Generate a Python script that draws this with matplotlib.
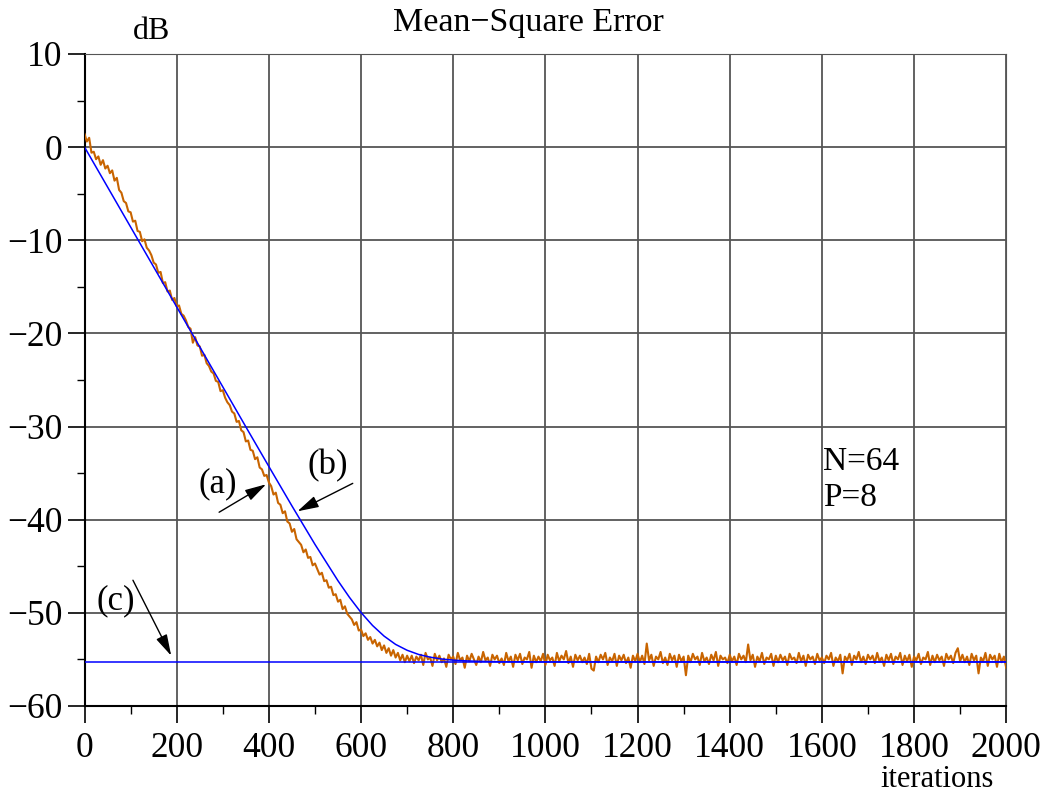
import matplotlib
matplotlib.use('Agg')
import matplotlib.pyplot as plt
import numpy as np
from matplotlib.ticker import MultipleLocator

plt.rcParams['font.family'] = ['Liberation Serif', 'DejaVu Serif']

# curva teórica (b)
iter_teo = [0, 50, 100, 150, 200, 250, 300, 350, 400, 450, 500, 550, 575, 600,
            625, 650, 675, 700, 725, 750, 775, 800, 825, 850, 900, 1000, 2000]
mse_teo = [0.0, -4.29, -8.58, -12.87, -17.16, -21.45, -25.74, -30.03, -34.29,
           -38.52, -42.65, -46.56, -48.35, -49.97, -51.36, -52.50, -53.39,
           -54.02, -54.47, -54.76, -54.96, -55.08, -55.15, -55.20, -55.25,
           -55.27, -55.27]

# nivel mínimo (c)
mse_min = -55.27

# curva simulada (a), un valor cada 5 iteraciones
paso = 5
mse_sim = [
    1.4, 0.6, 1.0, -0.6, -0.5, -1.3, -1.0, -1.9, -1.4, -2.3, -2.0, -2.8, -2.5,
    -3.6, -3.3, -4.6, -4.9, -5.8, -6.0, -6.9, -7.0, -8.0, -7.9, -9.0, -9.1,
    -10.1, -9.9, -10.8, -11.1, -11.6, -12.4, -12.6, -13.5, -13.4, -14.6, -14.5,
    -15.5, -15.4, -16.4, -16.2, -17.1,
    -17.0, -17.9, -18.1, -18.6, -19.3, -19.5, -21.0, -20.4, -21.3, -21.4,
    -22.4, -22.3, -23.2, -23.5, -24.1, -24.3, -25.1, -25.2, -26.2, -26.1,
    -26.9, -27.4, -27.7, -28.4, -28.6, -29.5, -29.4, -30.4, -30.6, -31.6,
    -31.5, -32.5, -32.6, -33.5, -33.3, -34.4, -34.6, -35.3, -35.2, -36.0,
    -36.4, -37.3, -37.1, -38.2, -38.4, -39.3, -39.1, -40.2, -40.4, -41.3,
    -41.0, -42.1, -42.4, -42.7, -43.5, -43.2, -44.1, -44.0, -44.9, -44.7,
    -45.3, -45.9, -45.7, -46.6, -46.5, -47.3, -47.2, -48.1, -48.0, -48.8,
    -48.6, -49.6, -49.3, -50.1, -50.4, -50.7, -51.3, -51.0, -51.9, -51.8,
    -52.5, -52.2, -52.9, -52.6, -53.3, -52.9, -53.6, -53.2, -54.0, -53.5,
    -54.3, -53.8, -54.6, -54.0, -54.8, -54.3, -55.1, -54.5, -55.3, -54.6,
    -55.2, -54.6, -55.4, -54.7, -55.1, -54.5, -55.6, -54.3, -55.0, -54.8,
    -55.7, -54.4, -55.1, -54.6, -55.3, -54.9, -55.8, -54.5, -55.0, -54.7,
    -55.5, -54.3, -55.1, -54.8, -55.9, -54.6, -55.2, -54.4, -55.0, -55.6,
    -54.7, -55.3, -54.2, -55.1, -54.8, -55.7, -54.5, -55.0, -54.6, -55.4,
    -54.9, -55.6, -54.3, -55.2, -54.7, -55.8, -54.5, -55.1, -54.4, -55.5,
    -54.8, -55.0, -54.2, -55.9, -54.6, -55.3, -54.7, -55.2, -54.4, -55.6,
    -54.5, -55.1, -54.8, -55.7, -54.3, -55.2, -54.6, -55.0, -54.1, -55.4,
    -54.7, -55.8, -54.5, -55.1, -54.6, -55.3, -54.8, -55.5, -54.4, -56.0,
    -56.2, -54.7, -55.3, -54.5, -55.0, -54.3, -55.6, -54.8, -55.2, -54.4,
    -55.7, -54.6, -55.1, -54.5, -55.4, -54.8, -55.9, -54.6, -55.2, -54.4,
    -55.3, -54.6, -55.5, -53.3, -55.1, -54.5, -55.7, -54.7, -55.0, -54.2,
    -55.4, -54.8, -55.6, -54.4, -55.1, -54.6, -55.8, -54.5, -55.2, -54.7,
    -56.7, -54.6, -55.3, -54.4, -55.0, -54.7, -55.6, -54.3, -55.2, -54.8,
    -55.5, -54.5, -55.1, -54.2, -55.7, -54.6, -55.0, -54.8, -55.4, -54.5,
    -55.2, -54.7, -55.6, -54.4, -55.0, -54.6, -55.3, -53.4, -55.1, -54.5,
    -55.8, -54.7, -55.2, -54.3, -55.5, -54.8, -55.0, -54.4, -55.7, -54.6,
    -55.3, -54.5, -55.1, -54.7, -55.6, -54.4, -55.0, -54.8, -55.4, -54.3,
    -55.2, -54.6, -55.7, -54.5, -55.0, -54.7, -55.5, -54.4, -55.1, -54.8,
    -55.4, -54.6, -55.0, -54.3, -55.7, -54.8, -55.2, -54.5, -56.5, -54.7,
    -55.1, -54.4, -55.6, -54.6, -55.0, -54.2, -55.3, -54.7, -55.5, -54.5,
    -55.0, -54.6, -55.4, -54.3, -55.2, -54.8, -55.7, -54.5, -55.1, -54.4,
    -55.5, -54.7, -55.0, -54.3, -55.6, -54.6, -55.2, -54.5, -55.8, -54.7,
    -55.1, -54.4, -55.5, -54.8, -55.0, -54.2, -55.6, -54.6, -55.3, -54.5,
    -55.1, -54.7, -55.7, -54.4, -55.0, -54.6, -55.4, -54.3, -53.8, -55.2,
    -54.5, -55.3, -54.7, -55.6, -54.4, -55.1, -54.6, -56.5, -54.8, -55.2,
    -54.3, -55.7, -54.5, -55.0, -54.6, -55.8, -54.4, -55.3, -54.7, -55.9,
]
iter_sim = np.arange(len(mse_sim)) * paso

fig = plt.figure(figsize=(10.4, 7.96), dpi=100)
ax = fig.add_axes([0.0813, 0.1131, 0.8862, 0.8191])

gris = '#555555'
ax.grid(True, which='major', color=gris, lw=1.3)
ax.plot(iter_sim, mse_sim, color='#c86400', lw=1.5, zorder=3)
ax.plot(iter_teo, mse_teo, color='#0000ff', lw=1.1, zorder=4)
ax.plot([0, 2000], [mse_min, mse_min], color='#0000ff', lw=1.1, zorder=4)

ax.set_xlim(0, 2000)
ax.set_ylim(-60, 10)
ax.xaxis.set_major_locator(MultipleLocator(200))
ax.xaxis.set_minor_locator(MultipleLocator(100))
ax.yaxis.set_major_locator(MultipleLocator(10))
ax.yaxis.set_minor_locator(MultipleLocator(5))
ax.tick_params(which='major', direction='out', length=12, width=1.2,
               labelsize=25.5, pad=4)
ax.tick_params(which='minor', direction='out', length=6, width=1.0)
ax.tick_params(axis='x', which='major', pad=7)
ax.spines['top'].set_color(gris)
ax.spines['right'].set_color(gris)
ax.spines['left'].set_linewidth(1.5)
ax.spines['bottom'].set_linewidth(1.5)

fig.text(0.508, 0.972, 'Mean\u2212Square Error', fontsize=24.5,
         ha='center', va='center')
ax.text(145, 12.4, 'dB', fontsize=23, ha='center', va='center', clip_on=False)
fig.text(0.901, 0.021, 'iterations', fontsize=22, ha='center', va='center')

ax.text(1603, -33.8, 'N=64', fontsize=24, ha='left', va='center')
ax.text(1603, -37.6, 'P=8', fontsize=24, ha='left', va='center')

flecha = dict(arrowstyle='-|>,head_length=0.65,head_width=0.18',
              mutation_scale=20, lw=1.0, color='black',
              shrinkA=0, shrinkB=0)
ax.text(290, -36.2, '(a)', fontsize=25, ha='center', va='center')
ax.annotate('', xy=(394, -36.2), xytext=(292, -39.2), arrowprops=flecha)
ax.text(528, -34.2, '(b)', fontsize=25, ha='center', va='center')
ax.annotate('', xy=(462, -39.1), xytext=(582, -36.1), arrowprops=flecha)
ax.text(68, -48.7, '(c)', fontsize=25, ha='center', va='center')
ax.annotate('', xy=(188, -54.6), xytext=(105, -46.5), arrowprops=flecha)

fig.savefig('out.png', dpi=100)
